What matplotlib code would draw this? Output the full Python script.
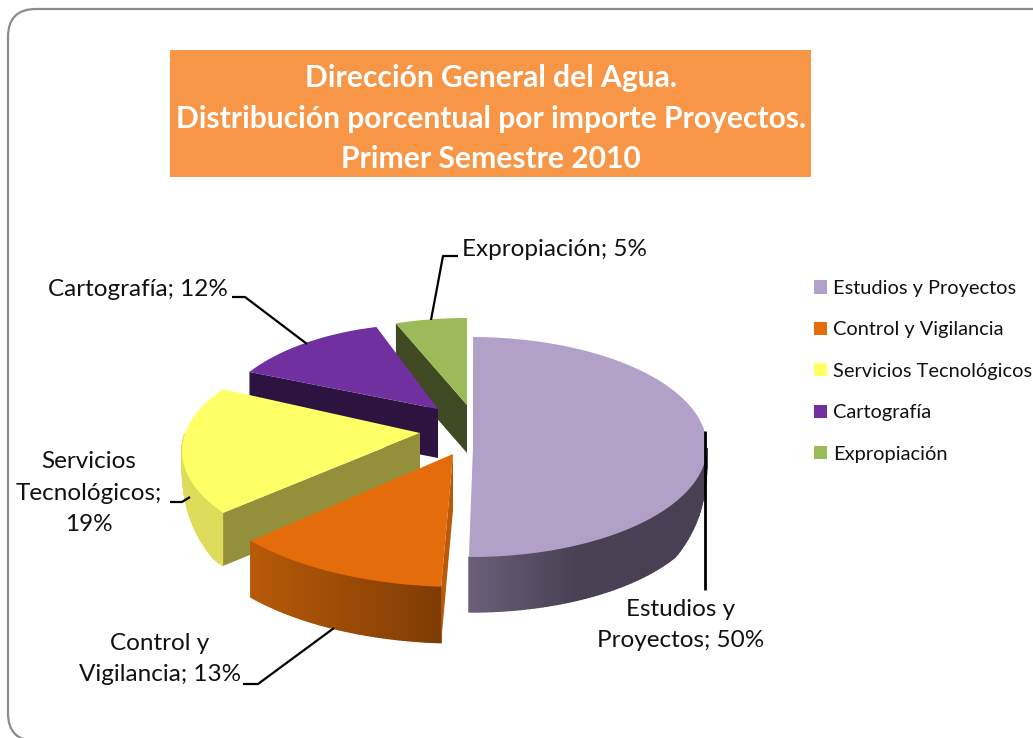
import numpy as np
import matplotlib
matplotlib.use("Agg")
import matplotlib.pyplot as plt
from matplotlib.patches import FancyBboxPatch, Polygon, Patch, Rectangle
from matplotlib.colors import to_rgb

plt.rcParams['font.family'] = ['Lato', 'DejaVu Sans']

categories = ['Estudios y Proyectos', 'Control y Vigilancia', 'Servicios Tecnológicos', 'Cartografía', 'Expropiación']
values = [50, 13, 19, 12, 5]
title_lines = ['Dirección General del Agua.', 'Distribución porcentual por importe Proyectos.', 'Primer Semestre 2010']

top_colors = ['#B1A0C7', '#E46C0A', '#FFFF66', '#7030A0', '#9BBB59']
side_light = ['#6B6079', '#B85A08', '#DEDC5A', '#2D133F', '#3F4A22']
side_dark = ['#494153', '#7F3C05', '#DEDC5A', '#2D133F', '#3F4A22']
cut_colors = [None, '#B85A08', '#948F3A', '#2D133F', '#3F4A22']

# where each exploded slice sits on the canvas (pixels)
centre_x = [471, 460, 420, 426, 467]
centre_y = [447, 462, 451, 430, 428]
radius_x = [236, 270, 238, 211, 230]
radius_y = [110, 125, 110, 106, 110]
rotation = [0.5, 4, 9, 8, 3.6]
tip_x = [473, 453, 420, 438, 467]
tip_y = [447, 454, 433, 409, 405]
depth = [55, 56, 53, 49, 48]

fig = plt.figure(figsize=(10.33, 7.38), dpi=100)
ax = fig.add_axes([0, 0, 1, 1])
ax.set_xlim(0, 1033)
ax.set_ylim(738, 0)
ax.axis('off')

ax.add_patch(FancyBboxPatch((36, 37), 1060, 676, boxstyle='round,pad=28,rounding_size=28',
                            fc='white', ec='#8C8C8C', lw=1.6, zorder=0))

ax.add_patch(Rectangle((170, 50), 641, 127, fc='#F79646', ec='none', zorder=1))
for line, y in zip(title_lines, [78, 119, 159]):
    ax.text(491, y, line, color='white', fontsize=21.6, fontweight='bold', ha='center', va='center', zorder=2)


def arc(i, a0, a1, n=80):
    t = np.radians(np.linspace(a0, a1, n) + rotation[i])
    return centre_x[i] + radius_x[i] * np.sin(t), centre_y[i] - radius_y[i] * np.cos(t), t


starts = np.cumsum([0] + values[:-1]) * 3.6
ends = starts + np.array(values) * 3.6

# back slices first so the front ones cover them
for z, i in enumerate([4, 3, 2, 1, 0]):
    zo = 3 + z
    a0, a1 = starts[i], ends[i]
    x, y, _ = arc(i, a0, a1)
    d = depth[i]

    # outer wall, only the part facing the viewer
    lo = max(a0, 90)
    hi = min(a1, 270)
    if hi > lo:
        wx, wy, wt = arc(i, lo, hi)
        # the wall thins out towards the sides of the ellipse
        wd = d * np.minimum(1, np.abs(np.cos(wt)) / 0.5) ** 0.5
        light, dark = np.array(to_rgb(side_light[i])), np.array(to_rgb(side_dark[i]))
        for k in range(len(wx) - 1):
            if i == 1:
                f = (wx[k] - wx.min()) / (wx.max() - wx.min())
            else:
                f = min((wx[k] - wx.min()) / ((wx.max() - wx.min()) * 0.45), 1)
            col = light + (dark - light) * f
            ax.add_patch(Polygon([(wx[k], wy[k]), (wx[k + 1], wy[k + 1]),
                                  (wx[k + 1], wy[k + 1] + wd[k + 1]), (wx[k], wy[k] + wd[k])],
                                 fc=col, ec=col, lw=1, zorder=zo))

    # cut face between the tip and the start of the arc
    if cut_colors[i]:
        ax.add_patch(Polygon([(tip_x[i], tip_y[i]), (x[0], y[0]), (x[0], y[0] + d), (tip_x[i], tip_y[i] + d)],
                             fc=cut_colors[i], ec='none', zorder=zo))

    pts = np.column_stack([np.r_[tip_x[i], x], np.r_[tip_y[i], y]])
    ax.add_patch(Polygon(pts, fc=top_colors[i], ec='none', zorder=zo + 0.5))

# leader lines
leaders = [
    ([705, 705], [431, 590], 2),
    ([334, 258, 243], [628, 684, 684], 1.6),
    ([190, 182, 170], [497, 502, 502], 1.6),
    ([307, 245, 232], [344, 297, 297], 1.6),
    ([431, 443, 458], [320, 256, 256], 1.6),
]
for lx, ly, w in leaders:
    ax.plot(lx, ly, color='black', lw=w, zorder=9, solid_capstyle='butt')

labels = [
    ('Estudios y\nProyectos; 50%', 681, 625),
    ('Control y\nVigilancia; 13%', 160, 659),
    ('Servicios\nTecnológicos;\n19%', 89, 493),
    ('Cartografía; 12%', 138, 289),
    ('Expropiación; 5%', 555, 249),
]
for text, x, y in labels:
    ax.text(x, y, text, fontsize=17.5, color='#111111', ha='center', va='center', linespacing=1.62, zorder=10)

handles = [Patch(fc=c, ec='none') for c in top_colors]
ax.legend(handles, categories, loc='upper left', bbox_to_anchor=(804 / 1033, 1 - 270 / 738),
          frameon=False, fontsize=14.4, handlelength=0.65, handleheight=0.65, handletextpad=0.3,
          labelspacing=1.22, borderpad=0.5, borderaxespad=0, labelcolor='#111111')

fig.savefig('out.png', dpi=100)
